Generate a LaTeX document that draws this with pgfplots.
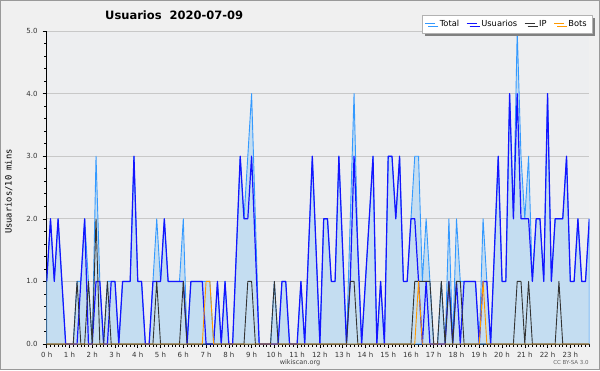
\documentclass[border=0pt]{standalone}
\usepackage{fontspec}
\setmainfont{DejaVu Sans}
\newfontfamily\monofont{DejaVu Sans Mono}
\usepackage{pgfplots}
\pgfplotsset{compat=1.18}
\usepackage{pgfplotstable}
\usetikzlibrary{shadows}

\definecolor{outerbg}{HTML}{F0F0F0}
\definecolor{plotbg}{HTML}{EDEEF0}
\definecolor{totline}{HTML}{3399FF}
\definecolor{totfill}{HTML}{C4DDF1}
\definecolor{usrline}{HTML}{1414FF}
\definecolor{ipline}{HTML}{333333}
\definecolor{botline}{HTML}{FF9900}
\definecolor{gridc}{HTML}{C8C8C8}

\pgfplotstableread{
i T U P B
0 1 1 0 0
1 2 2 0 0
2 1 1 0 0
3 2 2 0 0
4 1 1 0 0
5 0 0 0 0
6 0 0 0 0
7 0 0 0 0
8 1 0 1 0
9 1 1 0 0
10 2 2 0 0
11 1 0 1 0
12 0 0 0 0
13 3 1 2 0
14 1 1 0 0
15 0 0 0 0
16 1 0 1 0
17 1 1 0 0
18 1 1 0 0
19 0 0 0 0
20 1 1 0 0
21 1 1 0 0
22 1 1 0 0
23 3 3 0 0
24 1 1 0 0
25 1 1 0 0
26 0 0 0 0
27 0 0 0 0
28 1 1 0 0
29 2 1 1 0
30 1 1 0 0
31 2 2 0 0
32 1 1 0 0
33 1 1 0 0
34 1 1 0 0
35 1 1 0 0
36 2 1 1 0
37 0 0 0 0
38 1 1 0 0
39 1 1 0 0
40 1 1 0 0
41 1 1 0 0
42 1 0 0 1
43 1 0 0 1
44 0 0 0 0
45 1 1 0 0
46 0 0 0 0
47 1 1 0 0
48 0 0 0 0
49 0 0 0 0
50 1.5 1.5 0 0
51 3 3 0 0
52 2 2 0 0
53 3 2 1 0
54 4 3 1 0
55 2 1.5 0 0
56 0 0 0 0
57 0 0 0 0
58 0 0 0 0
59 0 0 0 0
60 1 0 1 0
61 0 0 0 0
62 1 1 0 0
63 1 1 0 0
64 0 0 0 0
65 0 0 0 0
66 0 0 0 0
67 1 1 0 0
68 0 0 0 0
69 1.5 1.5 0 0
70 3 3 0 0
71 1.5 1.5 0 0
72 0 0 0 0
73 2 2 0 0
74 2 2 0 0
75 1 1 0 0
76 1 1 0 0
77 3 3 0 0
78 1.5 1.5 0 0
79 0 0 0 0
80 2 1 1 0
81 4 3 1 0
82 1.5 1.5 0 0
83 0 0 0 0
84 1 1 0 0
85 2 2 0 0
86 3 3 0 0
87 0 0 0 0
88 1 1 0 0
89 0 0 0 0
90 3 3 0 0
91 3 3 0 0
92 2 2 0 0
93 3 3 0 0
94 1 1 0 0
95 1 1 0 0
96 2 2 0 0
97 3 2 1 0
98 3 1 1 1
99 1 0 1 0
100 2 1 1 0
101 1 0 1 0
102 0 0 0 0
103 0 0 0 0
104 1 0 1 0
105 0 0 0 0
106 2 1 1 0
107 0 0 0 0
108 2 1 1 0
109 1 0 1 0
110 1 1 0 0
111 1 1 0 0
112 1 1 0 0
113 1 1 0 0
114 0 0 0 0
115 2 1 0 1
116 1 1 0 0
117 0 0 0 0
118 1.5 1.5 0 0
119 3 3 0 0
120 1 1 0 0
121 1 1 0 0
122 4 4 0 0
123 2 2 0 0
124 5 4 1 0
125 3 2 1 0
126 2 2 0 0
127 3 2 1 0
128 1 1 0 0
129 2 2 0 0
130 2 2 0 0
131 1 1 0 0
132 4 4 0 0
133 1 1 0 0
134 2 2 0 0
135 2 2 1 0
136 2 2 0 0
137 3 3 0 0
138 1 1 0 0
139 1 1 0 0
140 2 2 0 0
141 1 1 0 0
142 1 1 0 0
143 2 2 0 0
}\data

\begin{document}
\begin{tikzpicture}[x=1pt,y=1pt]
\useasboundingbox (0,0) rectangle (600,370);
\fill[outerbg] (0,0) rectangle (600,370);
\draw[black!40, line width=1pt] (0.5,0.5) rectangle (599.5,369.5);
\begin{axis}[
  at={(46.7pt,26pt)}, anchor=south west,
  scale only axis, width=542.6pt, height=313pt,
  xmin=0, xmax=143, ymin=0, ymax=5,
  axis background/.style={fill=plotbg},
  axis x line*=bottom, axis y line*=left,
  axis line style={black, line width=0.9pt},
  no markers,
  line join=round,
  ytick={0,1,2,3,4,5},
  yticklabels={0.0,1.0,2.0,3.0,4.0,5.0},
  minor y tick num=4,
  xtick={0,6,...,138},
  xticklabels={0 h,1 h,2 h,3 h,4 h,5 h,6 h,7 h,8 h,9 h,10 h,11 h,12 h,13 h,14 h,15 h,16 h,17 h,18 h,19 h,20 h,21 h,22 h,23 h},
  minor xtick={0,...,143},
  tick align=outside,
  major tick length=4pt, minor tick length=2.5pt,
  tick style={black, line width=0.6pt},
  ymajorgrids, grid style={gridc, line width=0.8pt},
  tick label style={font=\fontsize{7}{8}\selectfont, text=black!80},
  xticklabel style={inner sep=0pt, yshift=-3.5pt},
  yticklabel style={inner sep=0pt, xshift=-5pt},
  ylabel={Usuarios/10 mins},
  ylabel style={at={(axis description cs:-0.07,0.487)}, anchor=center, font=\monofont\fontsize{8.8}{9}\selectfont},
  title={Usuarios\ \ 2020-07-09},
  title style={at={(axis description cs:0.235,1.03)}, anchor=center, font=\bfseries\fontsize{11.5}{12}\selectfont},
  legend columns=4,
  legend image code/.code={\draw[#1] (0pt,0.33em) -- (10pt,0.33em);},
  legend style={at={(axis description cs:1.005,0.992)}, anchor=south east,
    draw=black!30, fill=white, font=\fontsize{8.3}{9}\selectfont,
    inner xsep=3pt, inner ysep=3pt, row sep=0pt,
    cells={anchor=base west},
    /tikz/every even column/.append style={column sep=5pt},
    /tikz/every odd column/.append style={column sep=2pt},
    general shadow={fill=black!50, shadow xshift=3pt, shadow yshift=-3pt}},
]
\addplot[draw=totline, fill=totfill, line width=0.9pt] table[x=i,y=T]{\data} \closedcycle;
\addlegendentry{Total}
\addplot[usrline, line width=1.2pt] table[x=i,y=U]{\data};
\addlegendentry{Usuarios}
\addplot[ipline, line width=0.9pt] table[x=i,y=P]{\data};
\addlegendentry{IP}
\addplot[botline, line width=0.9pt] table[x=i,y=B]{\data};
\addlegendentry{Bots}
\end{axis}
\node[font=\fontsize{6.5}{7}\selectfont, text=black!75] at (300,7.5) {wikiscan.org};
\node[font=\fontsize{5.5}{6}\selectfont, text=black!60] at (571,7.5) {CC BY-SA 3.0};
\end{tikzpicture}
\end{document}
